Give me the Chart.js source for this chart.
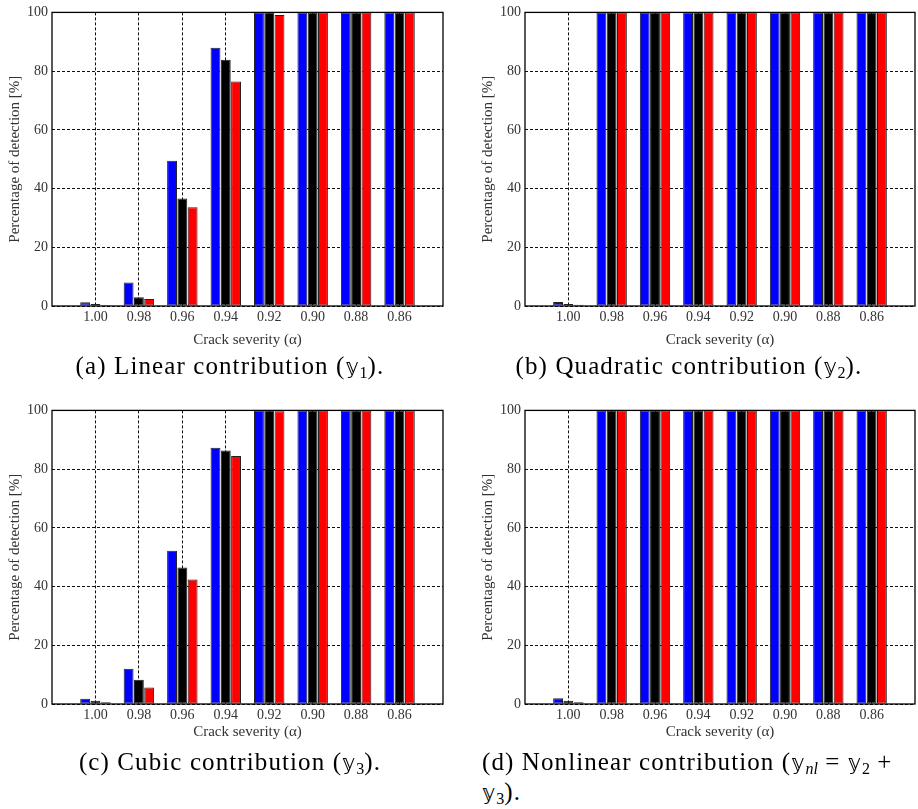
<!DOCTYPE html>
<html>
<head>
<meta charset="utf-8">
<script src="https://cdn.jsdelivr.net/npm/chart.js@4/dist/chart.umd.min.js"></script>
<style>
    body { margin: 0; background: #fff; width: 918px; height: 809px; position: relative; overflow: hidden; }
    .pane { position: absolute; }
    .caption { position: absolute; font-family: "Liberation Serif", "DejaVu Serif", serif; font-size: 25px; letter-spacing: 1.1px; color: #000; white-space: nowrap; }
    .caption sub { font-size: 16px; vertical-align: -4px; line-height: 0; letter-spacing: 0; }
    .bb { font-family: "DejaVu Sans", "DejaVu Serif", serif; font-size: 21px; }
</style>
</head>
<body>
<div class="pane" style="left:0;top:0"><canvas id="chartA"></canvas></div>
<div class="pane" style="left:460px;top:0"><canvas id="chartB"></canvas></div>
<div class="pane" style="left:0;top:398px"><canvas id="chartC"></canvas></div>
<div class="pane" style="left:460px;top:398px"><canvas id="chartD"></canvas></div>

<div class="caption" style="left:0;width:460px;text-align:center;top:352px">(a) Linear contribution (<span class="bb">𝕪</span><sub>1</sub>).</div>
<div class="caption" style="left:460px;width:458px;text-align:center;top:352px">(b) Quadratic contribution (<span class="bb">𝕪</span><sub>2</sub>).</div>
<div class="caption" style="left:0;width:460px;text-align:center;top:748px">(c) Cubic contribution (<span class="bb">𝕪</span><sub>3</sub>).</div>
<div class="caption" style="left:482px;top:748px">(d) Nonlinear contribution (<span class="bb">𝕪</span><sub><i>nl</i></sub> = <span class="bb">𝕪</span><sub>2</sub> +</div>
<div class="caption" style="left:482px;top:778px"><span class="bb">𝕪</span><sub>3</sub>).</div>

<script>
// crack severity categories (x ticks)
const severities = ['1.00', '0.98', '0.96', '0.94', '0.92', '0.90', '0.88', '0.86'];
const yTicks = [0, 20, 40, 60, 80, 100];

// (a) linear contribution
const linBlue  = [1.3, 8.0, 49.5, 88.0, 100, 100, 100, 100];
const linBlack = [0.7, 3.0, 36.6, 83.9, 100, 100, 100, 100];
const linRed   = [0.3, 2.4, 33.6, 76.5, 99.1, 100, 100, 100];

// (b) quadratic contribution
const quadBlue  = [1.4, 100, 100, 100, 100, 100, 100, 100];
const quadBlack = [0.7, 100, 100, 100, 100, 100, 100, 100];
const quadRed   = [0.4, 100, 100, 100, 100, 100, 100, 100];

// (c) cubic contribution
const cubBlue  = [1.8, 12.0, 52.2, 87.3, 100, 100, 100, 100];
const cubBlack = [1.1, 8.3, 46.5, 86.3, 100, 100, 100, 100];
const cubRed   = [0.6, 5.6, 42.4, 84.5, 99.7, 100, 100, 100];

// (d) nonlinear contribution
const nlBlue  = [2.0, 100, 100, 100, 100, 100, 100, 100];
const nlBlack = [1.1, 100, 100, 100, 100, 100, 100, 100];
const nlRed   = [0.6, 100, 100, 100, 100, 100, 100, 100];

const serif = "'Liberation Serif', 'DejaVu Serif', serif";

// empty slot on each side, like the matplotlib x-limits
const labels = [''].concat(severities, ['']);
const pad = arr => [null].concat(arr, [null]);

// solid frame around the axes, drawn over the bars
const framePlugin = {
    id: 'frame',
    afterDraw(chart) {
        const a = chart.chartArea;
        const ctx = chart.ctx;
        ctx.save();
        ctx.strokeStyle = '#000';
        ctx.lineWidth = 1.3;
        ctx.strokeRect(a.left, a.top, a.right - a.left, a.bottom - a.top);
        ctx.restore();
    }
};

function makeChart(id, w, h, blue, black, red, opts) {
    const canvas = document.getElementById(id);
    canvas.width = w;
    canvas.height = h;
    canvas.style.width = w + 'px';
    canvas.style.height = h + 'px';

    const bar = (data, color) => ({
        data: pad(data),
        backgroundColor: color,
        borderColor: '#222',
        borderWidth: 1,
        borderSkipped: false,
        categoryPercentage: 0.71,
        barPercentage: 0.96,
    });

    return new Chart(canvas, {
        type: 'bar',
        data: {
            labels: labels,
            datasets: [ bar(blue, '#0000ff'), bar(black, '#000000'), bar(red, '#ff0000') ]
        },
        options: {
            responsive: false,
            animation: false,
            devicePixelRatio: 1,
            layout: { padding: { top: opts.top, right: opts.right, left: 0, bottom: 0 } },
            plugins: { legend: { display: false }, tooltip: { enabled: false } },
            scales: {
                x: {
                    offset: false,
                    grid: {
                        offset: false,
                        color: ctx => (ctx.tick && ctx.tick.label !== '' ? '#111' : 'rgba(0,0,0,0)'),
                        lineWidth: 1,
                        drawTicks: false,
                    },
                    border: { display: false, dash: [3, 2] },
                    ticks: { color: '#333', font: { family: serif, size: 14 }, padding: 3, maxRotation: 0, autoSkip: false },
                    title: {
                        display: true,
                        text: 'Crack severity (α)',
                        color: '#333',
                        font: { family: serif, size: 15 },
                        padding: { top: 0, bottom: opts.xTitlePad }
                    },
                    afterFit: s => { s.height = opts.xAxisH; }
                },
                y: {
                    min: 0,
                    max: 100,
                    afterBuildTicks: s => { s.ticks = yTicks.map(v => ({ value: v })); },
                    grid: { color: '#111', lineWidth: 1, drawTicks: false },
                    border: { display: false, dash: [3, 2] },
                    ticks: { color: '#333', font: { family: serif, size: 14 }, padding: 4 },
                    title: {
                        display: true,
                        text: 'Percentage of detection [%]',
                        color: '#333',
                        font: { family: serif, size: 15 },
                        padding: { top: opts.yTitlePad, bottom: 0 }
                    },
                    afterFit: s => { s.width = opts.yAxisW; }
                }
            }
        },
        plugins: [framePlugin]
    });
}

const chartA = makeChart('chartA', 460, 360, linBlue, linBlack, linRed,
    { top: 12, right: 17, yAxisW: 52, xAxisH: 54, xTitlePad: 11, yTitlePad: 6 });
const chartB = makeChart('chartB', 458, 360, quadBlue, quadBlack, quadRed,
    { top: 12, right: 3, yAxisW: 65, xAxisH: 54, xTitlePad: 11, yTitlePad: 19 });
const chartC = makeChart('chartC', 460, 360, cubBlue, cubBlack, cubRed,
    { top: 12, right: 17, yAxisW: 52, xAxisH: 54, xTitlePad: 17, yTitlePad: 6 });
const chartD = makeChart('chartD', 458, 360, nlBlue, nlBlack, nlRed,
    { top: 12, right: 3, yAxisW: 65, xAxisH: 54, xTitlePad: 17, yTitlePad: 19 });
</script>
</body>
</html>
